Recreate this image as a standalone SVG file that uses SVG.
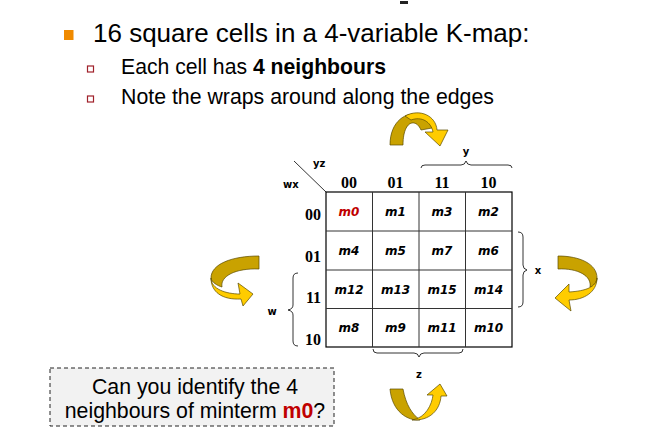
<svg xmlns="http://www.w3.org/2000/svg" width="647" height="438" viewBox="0 0 647 438">
<style>
.t{font-family:"Liberation Sans",Arial,sans-serif;fill:#000}
.hdr{font-family:"Liberation Serif","Times New Roman",serif;font-weight:bold;font-size:16px;fill:#000}
.cell{font-family:"DejaVu Sans",Verdana,sans-serif;font-weight:bold;font-style:italic;font-size:12px;text-anchor:middle;fill:#000}
.var{font-family:"DejaVu Sans",Verdana,sans-serif;font-weight:bold;font-size:10px;fill:#000}
.br{fill:none;stroke:#000;stroke-width:0.8}
.g{stroke:#333;stroke-width:1}
.dk{fill:#C9A200;stroke:#5a4a00;stroke-width:0.7}
.lt{fill:#FFCC00;stroke:#5a4a00;stroke-width:0.7}
</style>
<rect x="0" y="0" width="647" height="438" fill="#fff"/>
<rect x="400" y="1" width="8" height="3" fill="#222"/>
<g id="bullets">
<rect x="64" y="30" width="9.5" height="10" fill="#F08A00"/>
<text class="t" x="93" y="42" font-size="26">16 square cells in a 4-variable K-map:</text>
<rect x="87.5" y="66" width="6" height="6" fill="none" stroke="#A0202A" stroke-width="1.2"/>
<text class="t" x="121" y="74.3" font-size="21.2">Each cell has <tspan font-weight="bold">4 neighbours</tspan></text>
<rect x="87.5" y="96" width="6" height="6" fill="none" stroke="#A0202A" stroke-width="1.2"/>
<text class="t" x="121" y="104.3" font-size="21.3">Note the wraps around along the edges</text>
</g>
<g id="kmap">
<rect x="326" y="192" width="186" height="155" fill="#fff" stroke="#000" stroke-width="1.2"/>
<line class="g" x1="372.5" y1="192" x2="372.5" y2="347"/>
<line class="g" x1="419" y1="192" x2="419" y2="347" stroke="#777"/>
<line class="g" x1="465.5" y1="192" x2="465.5" y2="347"/>
<line class="g" x1="326" y1="231" x2="512" y2="231"/>
<line class="g" x1="326" y1="270" x2="512" y2="270"/>
<line class="g" x1="326" y1="308.5" x2="512" y2="308.5"/>
<line x1="294" y1="161" x2="326" y2="192" stroke="#000" stroke-width="0.8"/>
<text class="var" x="313" y="167">yz</text>
<text class="var" x="283" y="188">wx</text>
<text class="hdr" x="349" y="188" text-anchor="middle">00</text>
<text class="hdr" x="395.5" y="188" text-anchor="middle">01</text>
<text class="hdr" x="442" y="188" text-anchor="middle">11</text>
<text class="hdr" x="488.5" y="188" text-anchor="middle">10</text>
<text class="hdr" x="321" y="220" text-anchor="end">00</text>
<text class="hdr" x="321" y="262" text-anchor="end">01</text>
<text class="hdr" x="321" y="303" text-anchor="end">11</text>
<text class="hdr" x="321" y="345" text-anchor="end">10</text>
<text class="cell" x="349" y="216" style="fill:#C00000">m0</text>
<text class="cell" x="395.5" y="216">m1</text>
<text class="cell" x="442" y="216">m3</text>
<text class="cell" x="488.5" y="216">m2</text>
<text class="cell" x="349" y="255">m4</text>
<text class="cell" x="395.5" y="255">m5</text>
<text class="cell" x="442" y="255">m7</text>
<text class="cell" x="488.5" y="255">m6</text>
<text class="cell" x="349" y="294">m12</text>
<text class="cell" x="395.5" y="294">m13</text>
<text class="cell" x="442" y="294">m15</text>
<text class="cell" x="488.5" y="294">m14</text>
<text class="cell" x="349" y="332">m8</text>
<text class="cell" x="395.5" y="332">m9</text>
<text class="cell" x="442" y="332">m11</text>
<text class="cell" x="488.5" y="332">m10</text>
</g>
<g id="braces">
<path class="br" d="M421,168 Q421,165 425,165 L461,165 Q465,165 466,161 Q467,165 471,165 L508,165 Q512,165 512,168"/>
<text class="var" x="466" y="155" text-anchor="middle">y</text>
<path class="br" d="M373,349 Q373,353 377,353 L414,353 Q418,353 419,357 Q420,353 424,353 L459,353 Q463,353 463,349"/>
<text class="var" x="419" y="378" text-anchor="middle">z</text>
<path class="br" d="M298,273 Q293,273 293,278 L293,305 Q293,309 288,310 Q293,311 293,315 L293,341 Q293,346 298,346"/>
<text class="var" x="272" y="315" text-anchor="middle">w</text>
<path class="br" d="M518,232 Q523,232 523,237 L523,265 Q523,269 527,270 Q523,271 523,275 L523,302 Q523,307 518,307"/>
<text class="var" x="538" y="274" text-anchor="middle">x</text>
</g>
<g id="arrows">
<path class="dk" d="M390,145 C390,110 425,105 432,128 L421,130 C416,118 403,120 403,145 Z"/>
<path class="lt" d="M405,116 C420,108 436,116 437,130 L448,130 L440,146 L425,132 L433,132 C431,122 422,116 411,120 Z"/>
<path class="dk" d="M259,256 L259,269 C236,268 220,276 222,287 C218,286 211,282 211,278 C211,264 232,256 259,256 Z"/>
<path class="lt" d="M211,278 C211,289 226,294 240,294 L238,283 L253,294 L243,306 L241,299 C222,300 211,292 211,278 Z"/>
<path class="dk" d="M558,256 L558,269 C578,268 592,276 590,287 C594,286 597,282 597,278 C597,264 580,256 558,256 Z"/>
<path class="lt" d="M597,278 C597,292 584,300 569,300 L571,311 L555,298 L569,284 L569,292 C586,291 596,287 597,278 Z"/>
<path class="dk" d="M390,389 L403,389 C406,405 412,414 420,420 C408,421 392,412 390,389 Z"/>
<path class="lt" d="M412,420 C426,418 432,404 433,395 L427,395 L440,384 L447,396 L441,396 C440,410 430,421 412,420 Z"/>
</g>
<g id="question">
<rect x="50" y="368" width="284" height="58" fill="#F2F2F2" stroke="#222" stroke-width="1" stroke-dasharray="4,3"/>
<text class="t" x="195" y="394" font-size="21.3" text-anchor="middle">Can you identify the 4</text>
<text class="t" x="195" y="418" font-size="21.3" text-anchor="middle">neighbours of minterm <tspan font-weight="bold" fill="#C00000">m0</tspan>?</text>
</g>
</svg>
